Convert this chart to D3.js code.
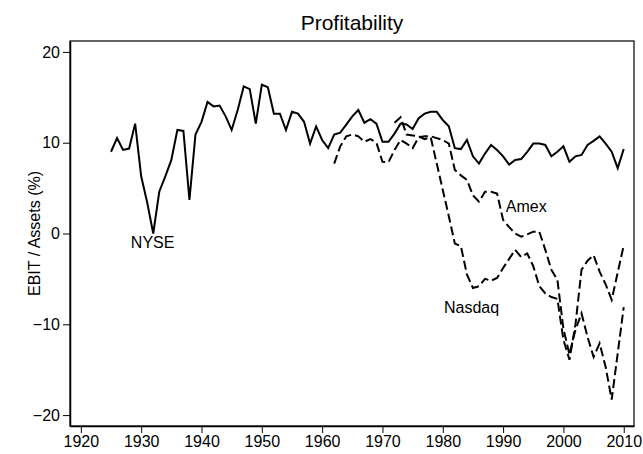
<!DOCTYPE html>
<meta charset="utf-8">
<html>
<head>
<style>
  body { margin: 0; background: #fff; }
  svg text { font-family: "Liberation Sans", Arial, sans-serif; fill: #000; }
  .axis path, .axis line { stroke: #000; }
</style>
<script src="https://d3js.org/d3.v7.min.js"></script>
</head>
<body>
<svg width="643" height="454"></svg>
<script>

// NYSE 1925-2010, Amex 1962-2010, Nasdaq 1972-2010 (EBIT / Assets, %)
var nyseStart = 1925;
var nyse = [9.0, 10.5, 9.2, 9.35, 12.1, 6.3, 3.4, 0.0, 4.6, 6.3,
            8.1, 11.4, 11.3, 3.7, 10.9, 12.3, 14.5, 14.0, 14.1, 12.9,
            11.4, 13.6, 16.2, 15.9, 12.1, 16.4, 16.1, 13.2, 13.2, 11.4,
            13.4, 13.2, 12.3, 9.9, 11.8, 10.3, 9.4, 10.9, 11.1, 12.0,
            12.9, 13.6, 12.2, 12.6, 12.1, 10.1, 10.1, 11.0, 12.1, 12.0,
            11.5, 12.7, 13.2, 13.4, 13.4, 12.5, 11.8, 9.4, 9.3, 10.3,
            8.5, 7.7, 8.8, 9.75, 9.2, 8.5, 7.6, 8.1, 8.2, 9.0,
            9.9, 9.9, 9.75, 8.5, 9.0, 9.6, 7.9, 8.5, 8.65, 9.75,
            10.2, 10.7, 9.9, 9.0, 7.2, 9.3];

var amexStart = 1962;
var amex = [7.7, 9.6, 10.7, 10.9, 10.7, 10.1, 10.4, 10.0, 7.9, 7.85,
            9.2, 10.3, 9.9, 9.4, 10.6, 10.7, 10.7, 10.5, 10.3, 9.9,
            7.0, 6.4, 5.9, 4.2, 3.5, 4.6, 4.6, 4.4, 1.5, 0.7,
            0.0, -0.35, -0.1, 0.2, 0.2, -1.8, -4.0, -5.1, -10.5, -13.3,
            -10.6, -8.8, -11.4, -13.6, -12.1, -14.7, -18.3, -13.2, -8.1];

var nasdaqStart = 1972;
var nasdaq = [12.2, 12.8, 10.9, 10.8, 10.7, 10.4, 10.6, 7.7, 4.8, 1.9,
              -1.1, -1.4, -4.5, -6.0, -5.8, -5.0, -5.2, -4.9, -3.8, -2.8,
              -1.8, -2.6, -2.2, -3.6, -5.8, -6.6, -7.0, -7.2, -11.7, -13.9,
              -10.0, -4.0, -3.0, -2.4, -4.2, -5.6, -7.3, -4.3, -1.3];

var xTicks = [1920, 1930, 1940, 1950, 1960, 1970, 1980, 1990, 2000, 2010];
var yTicks = [-20, -10, 0, 10, 20];

// label anchors in data units
var labels = [
  {text: "NYSE", year: 1931.9, value: -1.6, anchor: "middle"},
  {text: "Amex", year: 1990.45, value: 2.4, anchor: "start"},
  {text: "Nasdaq", year: 1980.2, value: -8.8, anchor: "start"}
];

var svg = d3.select("svg"),
    margin = {top: 41, right: 9, bottom: 28, left: 70},
    width = +svg.attr("width") - margin.left - margin.right,
    height = +svg.attr("height") - margin.top - margin.bottom;

svg.append("rect").attr("width", 643).attr("height", 454).attr("fill", "#fff");

var g = svg.append("g").attr("transform", "translate(" + margin.left + "," + margin.top + ")");

var x = d3.scaleLinear().domain([1918.2, 2011.7]).range([0, width]),
    y = d3.scaleLinear().domain([-21.2, 21.2]).range([height, 0]);

function toPoints(start, vals) {
  return vals.map(function(v, i) { return {year: start + i, value: v}; });
}

var line = d3.line()
    .x(function(d) { return x(d.year); })
    .y(function(d) { return y(d.value); });

// frame
g.append("rect")
    .attr("x", 0).attr("y", 0)
    .attr("width", width).attr("height", height)
    .attr("fill", "none")
    .attr("stroke", "#000")
    .attr("stroke-width", 1.2);

g.append("g")
    .attr("class", "axis axis--x")
    .attr("transform", "translate(0," + height + ")")
    .call(d3.axisBottom(x).tickValues(xTicks).tickFormat(d3.format("d"))
      .tickSize(7).tickSizeOuter(0).tickPadding(3))
    .call(function(a) {
      a.selectAll("text").attr("font-size", "16px");
      a.select(".domain").attr("stroke-width", 1.5);
    });

g.append("g")
    .attr("class", "axis axis--y")
    .call(d3.axisLeft(y).tickValues(yTicks).tickSize(7).tickSizeOuter(0).tickPadding(3))
    .call(function(a) {
      a.selectAll("text").attr("font-size", "16px");
      a.select(".domain").attr("stroke-width", 1.5);
    });

g.append("text")
    .attr("transform", "rotate(-90)")
    .attr("x", -height / 2)
    .attr("y", -30)
    .attr("text-anchor", "middle")
    .attr("font-size", "16px")
    .text("EBIT / Assets (%)");

svg.append("text")
    .attr("x", margin.left + width / 2)
    .attr("y", 30)
    .attr("text-anchor", "middle")
    .attr("font-size", "21px")
    .text("Profitability");

var series = [
  {id: "NYSE", pts: toPoints(nyseStart, nyse), dash: null},
  {id: "Amex", pts: toPoints(amexStart, amex), dash: "9,4"},
  {id: "Nasdaq", pts: toPoints(nasdaqStart, nasdaq), dash: "9,4"}
];

g.selectAll(".series")
    .data(series)
  .enter().append("path")
    .attr("class", "series")
    .attr("d", function(d) { return line(d.pts); })
    .attr("fill", "none")
    .attr("stroke", "#000")
    .attr("stroke-width", 2)
    .attr("stroke-linejoin", "miter")
    .attr("stroke-dasharray", function(d) { return d.dash; });

g.selectAll(".lbl")
    .data(labels)
  .enter().append("text")
    .attr("class", "lbl")
    .attr("x", function(d) { return x(d.year); })
    .attr("y", function(d) { return y(d.value); })
    .attr("text-anchor", function(d) { return d.anchor; })
    .attr("font-size", "16px")
    .text(function(d) { return d.text; });

</script>
</body>
</html>
